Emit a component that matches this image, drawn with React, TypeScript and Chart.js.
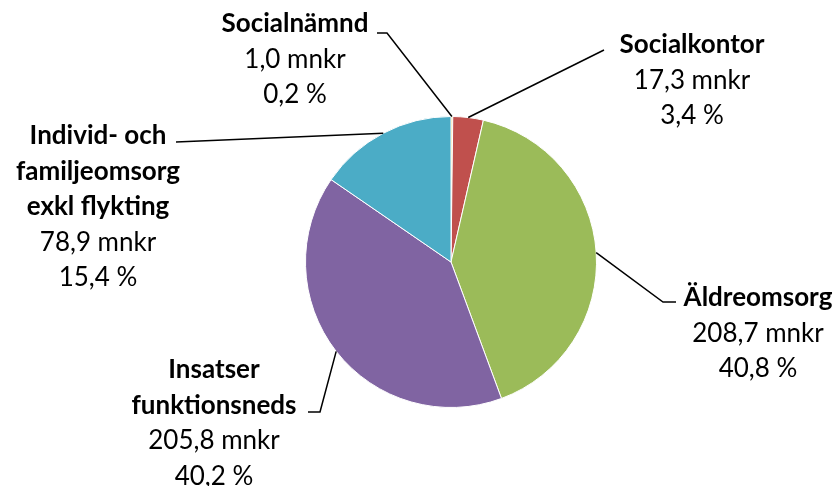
import React, { useEffect, useRef } from "react";
import { Chart, registerables } from "chart.js";

Chart.register(...registerables);

const categories: string[][] = [
  ["Socialnämnd"],
  ["Socialkontor"],
  ["Äldreomsorg"],
  ["Insatser", "funktionsneds"],
  ["Individ- och", "familjeomsorg", "exkl flykting"],
];
const values: number[] = [1.0, 17.3, 208.7, 205.8, 78.9];
const colors: string[] = ["#E8C43A", "#C0504D", "#9BBB59", "#8064A2", "#4BACC6"];
const unit = "mnkr";

// label layout: text center x, first line center y, leader elbow points (after slice edge point)
const labelLayout = [
  { cx: 295, y0: 24, path: [[387, 33], [377, 33]] },
  { cx: 692, y0: 45, path: [[604, 50]] },
  { cx: 758, y0: 298, path: [[663, 302], [676, 302]] },
  { cx: 214, y0: 370, path: [[320, 412], [308, 412]] },
  { cx: 98, y0: 136, path: [[176, 142]] },
];

const fmt = (v: number) => v.toFixed(1).replace(".", ",");

const labelPlugin = {
  id: "pieLabels",
  afterDraw(chart: any) {
    const ctx = chart.ctx;
    const meta = chart.getDatasetMeta(0);
    const total = values.reduce((a, b) => a + b, 0);
    ctx.save();
    meta.data.forEach((arc: any, i: number) => {
      const { x, y, outerRadius, startAngle, endAngle } = arc.getProps(
        ["x", "y", "outerRadius", "startAngle", "endAngle"],
        true
      );
      const mid = (startAngle + endAngle) / 2;
      const px = x + Math.cos(mid) * outerRadius;
      const py = y + Math.sin(mid) * outerRadius;
      const lay = labelLayout[i];
      ctx.beginPath();
      ctx.strokeStyle = "#000";
      ctx.lineWidth = 1.5;
      ctx.moveTo(px, py);
      lay.path.forEach((p) => ctx.lineTo(p[0], p[1]));
      ctx.stroke();

      const lines: { t: string; bold: boolean }[] = [];
      categories[i].forEach((t) => lines.push({ t, bold: true }));
      lines.push({ t: `${fmt(values[i])} ${unit}`, bold: false });
      lines.push({ t: `${fmt((values[i] / total) * 100)} %`, bold: false });
      ctx.textAlign = "center";
      ctx.textBaseline = "middle";
      ctx.fillStyle = "#000";
      lines.forEach((ln, k) => {
        ctx.font = `${ln.bold ? "bold " : ""}26px Lato`;
        ctx.fillText(ln.t, lay.cx, lay.y0 + k * 35.5);
      });
    });
    ctx.restore();
  },
};

export default function App() {
  const ref = useRef<HTMLCanvasElement>(null);
  useEffect(() => {
    if (!ref.current) return;
    const chart = new Chart(ref.current, {
      type: "pie",
      data: {
        labels: categories.map((c) => c.join(" ")),
        datasets: [
          {
            data: values,
            backgroundColor: colors,
            borderColor: "#ffffff",
            borderWidth: 1,
          },
        ],
      },
      options: {
        animation: false,
        responsive: false,
        maintainAspectRatio: false,
        layout: { padding: { left: 305, right: 240, top: 116, bottom: 78 } },
        plugins: {
          legend: { display: false },
          tooltip: { enabled: false },
        },
      },
      plugins: [labelPlugin],
    });
    return () => chart.destroy();
  }, []);
  return (
    <div style={{ position: "fixed", left: 0, top: 0, width: 837, height: 486, background: "#fff" }}>
      <canvas ref={ref} width={837} height={486} style={{ width: 837, height: 486 }} />
    </div>
  );
}
